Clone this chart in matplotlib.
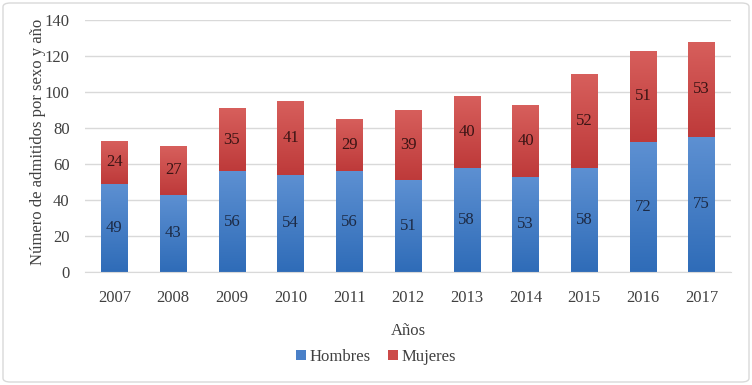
import matplotlib
matplotlib.use("Agg")
import matplotlib.pyplot as plt
import numpy as np
from matplotlib.patches import FancyBboxPatch, Patch

years = ["2007", "2008", "2009", "2010", "2011", "2012", "2013", "2014", "2015", "2016", "2017"]
hombres = [49, 43, 56, 54, 56, 51, 58, 53, 58, 72, 75]
mujeres = [24, 27, 35, 41, 29, 39, 40, 40, 52, 51, 53]

plt.rcParams['font.family'] = ['Liberation Serif', 'DejaVu Serif']

fig = plt.figure(figsize=(7.52, 3.85), dpi=100)
ax = fig.add_axes([85/752, 1 - 272/385, (731-85)/752, (272-20)/385])

x = np.arange(len(years))
w = 0.45
FS = 12

def grad_bar(xc, bottom, height, c_top, c_bot):
    bars = ax.bar(xc, height, w, bottom=bottom, color='none', zorder=3)
    for b in bars:
        g = np.linspace(1, 0, 64).reshape(-1, 1)
        ct = np.array(matplotlib.colors.to_rgb(c_top))
        cb = np.array(matplotlib.colors.to_rgb(c_bot))
        img = (g[..., None] * ct + (1 - g[..., None]) * cb)
        x0, y0 = b.get_x(), b.get_y()
        im = ax.imshow(img, extent=[x0, x0 + b.get_width(), y0, y0 + b.get_height()],
                       aspect='auto', zorder=2, origin='upper')
        im.set_clip_path(b)
    return bars

grad_bar(x, 0, hombres, '#5d90d2', '#2f6cb8')
grad_bar(x, hombres, mujeres, '#d75f5c', '#be3a3a')

for i in range(len(years)):
    ax.text(x[i], hombres[i] / 2, str(hombres[i]), ha='center', va='center',
            fontsize=FS, color='#1c2a45', zorder=5)
    ax.text(x[i], hombres[i] + mujeres[i] / 2, str(mujeres[i]), ha='center', va='center',
            fontsize=FS, color='#3a1414', zorder=5)

ax.set_xlim(-0.5, len(years) - 0.5)
ax.set_ylim(0, 140)
ax.set_yticks(range(0, 141, 20))
ax.set_xticks(x)
ax.set_xticklabels(years)
ax.grid(axis='y', color='#d9d9d9', linewidth=1, zorder=0)
ax.set_axisbelow(True)
for s in ['top', 'right', 'left']:
    ax.spines[s].set_visible(False)
ax.spines['bottom'].set_color('#d9d9d9')
ax.tick_params(axis='both', length=0, labelsize=FS, colors='#404040')
ax.tick_params(axis='y', pad=11)
ax.tick_params(axis='x', pad=13)
ax.set_ylabel('Número de admitidos por sexo y año', fontsize=FS, color='#404040', va='center')
ax.yaxis.set_label_coords(-0.073, 0.515)
ax.set_xlabel('Años', fontsize=FS, color='#404040', labelpad=12)

handles = [Patch(facecolor='#4a80c8'), Patch(facecolor='#cc4a48')]
fig.legend(handles, ['Hombres', 'Mujeres'], loc='center', bbox_to_anchor=(0.5, 1 - 357/385),
           ncol=2, frameon=False, fontsize=FS, handlelength=0.6, handleheight=0.6,
           handletextpad=0.25, columnspacing=1.0, labelcolor='#404040')

border = FancyBboxPatch((3/752, 3/385), 1 - 6/752, 1 - 6/385, boxstyle='round,pad=0,rounding_size=0.01',
                        transform=fig.transFigure, facecolor='none', edgecolor='#d9d9d9', linewidth=1)
fig.patches.append(border)

fig.savefig('out.png', dpi=100)
